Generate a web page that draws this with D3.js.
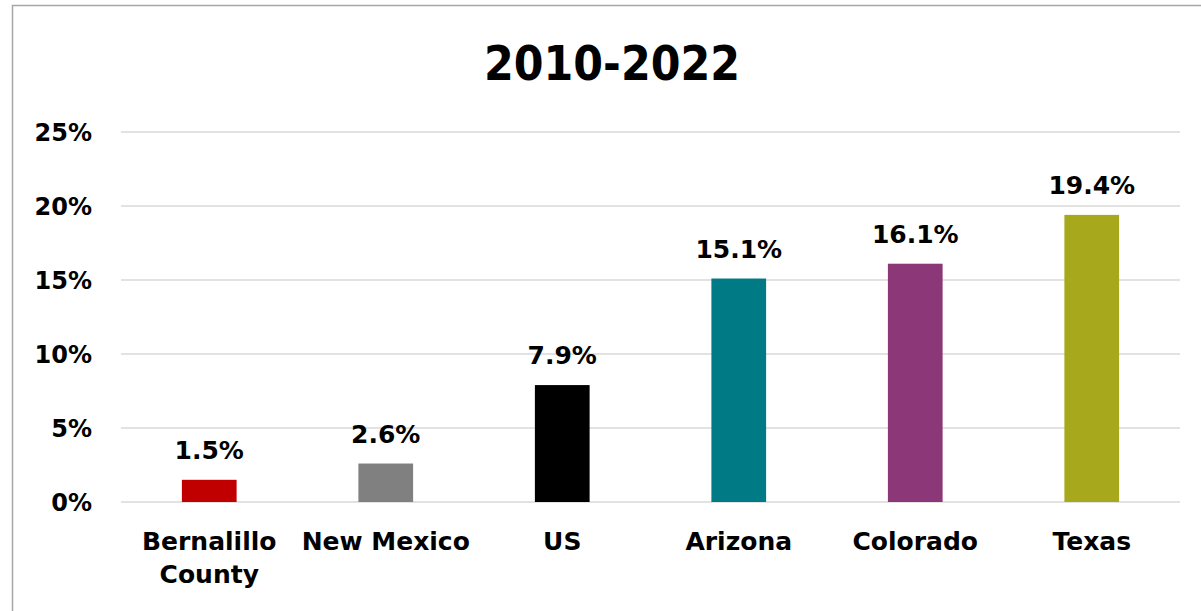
<!DOCTYPE html>
<html>
<head>
<meta charset="utf-8">
<script src="https://cdn.jsdelivr.net/npm/d3@7"></script>
<style>
  html, body { margin: 0; padding: 0; background: #fff; }
  svg { display: block; }
  text { font-family: "DejaVu Sans", Verdana, sans-serif; font-weight: bold; fill: #000; }
</style>
</head>
<body>
<svg id="chart" width="1201" height="611"></svg>
<script>
// Population growth, 2010-2022
const title = "2010-2022";
const categories = ["Bernalillo County", "New Mexico", "US", "Arizona", "Colorado", "Texas"];
const values = [1.5, 2.6, 7.9, 15.1, 16.1, 19.4];
const barColors = ["#c00000", "#808080", "#000000", "#007b85", "#8b3778", "#a8a81c"];
const yTicks = [0, 5, 10, 15, 20, 25];

const svg = d3.select("#chart");
const W = 1201, H = 611;
const plot = { left: 121, right: 1180, top: 132, bottom: 502 };

// chart frame
svg.append("rect")
  .attr("x", 12.5).attr("y", 5.5)
  .attr("width", W + 20).attr("height", H + 20)
  .attr("fill", "#fff").attr("stroke", "#a6a6a6").attr("stroke-width", 1.5);

svg.append("text")
  .attr("x", 612).attr("y", 80)
  .attr("text-anchor", "middle")
  .attr("textLength", 256)
  .attr("lengthAdjust", "spacingAndGlyphs")
  .style("font-size", "48px")
  .text(title);

const x = d3.scaleBand()
  .domain(categories)
  .range([plot.left, plot.right])
  .paddingInner(0.69).paddingOuter(0.345);

const y = d3.scaleLinear().domain([0, 25]).range([plot.bottom, plot.top]);

// gridlines
svg.append("g")
  .selectAll("line")
  .data(yTicks)
  .join("line")
  .attr("x1", plot.left).attr("x2", plot.right)
  .attr("y1", d => y(d)).attr("y2", d => y(d))
  .attr("stroke", "#d9d9d9").attr("stroke-width", 1.5);

// y axis labels
const yAxis = d3.axisLeft(y).tickValues(yTicks).tickFormat(d => d + "%").tickSize(0).tickPadding(0);
const gy = svg.append("g").attr("transform", "translate(92,0)").call(yAxis);
gy.select(".domain").remove();
gy.selectAll("text")
  .attr("dy", "0.36em")
  .style("font-size", "24px")
  .style("font-family", "DejaVu Sans, Verdana, sans-serif")
  .style("font-weight", "bold")
  .attr("fill", "#000");

// bars
svg.append("g")
  .selectAll("rect")
  .data(categories)
  .join("rect")
  .attr("x", d => x(d))
  .attr("width", x.bandwidth())
  .attr("y", (d, i) => y(values[i]))
  .attr("height", (d, i) => y(0) - y(values[i]))
  .attr("fill", (d, i) => barColors[i]);

// value labels
svg.append("g")
  .selectAll("text")
  .data(categories)
  .join("text")
  .attr("x", d => x(d) + x.bandwidth() / 2)
  .attr("y", (d, i) => y(values[i]) - 21)
  .attr("text-anchor", "middle")
  .style("font-size", "25px")
  .text((d, i) => values[i].toFixed(1) + "%");

// category labels (wrapped onto two lines where needed)
const xAxis = d3.axisBottom(x).tickSize(0).tickPadding(0).tickFormat("");
const gx = svg.append("g").attr("transform", `translate(0,${plot.bottom})`).call(xAxis);
gx.select(".domain").remove();
gx.selectAll(".tick").each(function(d) {
  const words = d === "Bernalillo County" ? ["Bernalillo", "County"] : [d];
  const t = d3.select(this).append("text")
    .attr("text-anchor", "middle")
    .style("font-size", "25px")
    .attr("fill", "#000");
  words.forEach((w, k) => {
    t.append("tspan").attr("x", 0).attr("y", 48 + k * 33).text(w);
  });
});
</script>
</body>
</html>
